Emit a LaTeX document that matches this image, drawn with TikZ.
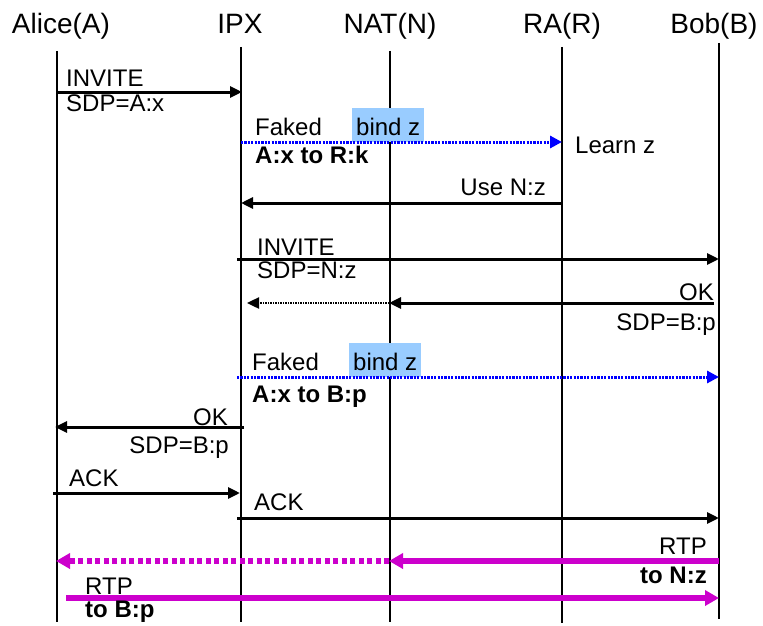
\documentclass[tikz,border=0pt]{standalone}
\usepackage{fontspec}
\setmainfont{Liberation Sans}
\usetikzlibrary{arrows.meta}
\definecolor{hlblue}{RGB}{153,204,255}
\definecolor{rtpmag}{RGB}{204,0,204}
\begin{document}
\begin{tikzpicture}[x=1pt,y=-1pt,
  lifeline/.style={line width=2pt,black},
  msg/.style={line width=3pt,black,-{Triangle[length=12pt,width=11pt]}},
  bluemsg/.style={line width=3pt,blue,dash pattern=on 2.2pt off 1.2pt,-{Triangle[length=12pt,width=12pt]}},
  blackdot/.style={line width=2.4pt,black,dash pattern=on 1.5pt off 1pt,-{Triangle[length=12pt,width=11pt]}},
  rtp/.style={line width=5.5pt,rtpmag,-{Triangle[length=14pt,width=15pt]}},
  rtpdash/.style={line width=5.5pt,rtpmag,dash pattern=on 5pt off 3.5pt,-{Triangle[length=14pt,width=15pt]}},
  lbl/.style={font=\fontsize{24}{27}\selectfont,inner sep=0pt},
  blbl/.style={font=\fontsize{24}{27}\selectfont\bfseries,inner sep=0pt},
  hdr/.style={font=\fontsize{28}{31}\selectfont,inner sep=0pt,anchor=base},
  hlbox/.style={font=\fontsize{24}{27}\selectfont,fill=hlblue,inner xsep=4pt,inner ysep=4pt,text height=23pt,text depth=3pt}
]
\useasboundingbox (0,0) rectangle (763,626);

% headers
\node[hdr] (hA) at (61,34) {Alice(A)};
\node[hdr] (hI) at (240,34) {IPX};
\node[hdr] (hN) at (390,34) {NAT(N)};
\node[hdr] (hR) at (562,34) {RA(R)};
\node[hdr] (hB) at (714,34) {Bob(B)};

% lifelines
\coordinate (At) at (57,51);  \coordinate (Ab) at (57,622);
\coordinate (It) at (241,47); \coordinate (Ib) at (241,622);
\coordinate (Nt) at (390,51); \coordinate (Nb) at (390,622);
\coordinate (Rt) at (562,47); \coordinate (Rb) at (562,623);
\coordinate (Bt) at (719,43); \coordinate (Bb) at (719,619);
\draw[lifeline] (At) -- (Ab);
\draw[lifeline] (It) -- (Ib);
\draw[lifeline] (Nt) -- (Nb);
\draw[lifeline] (Rt) -- (Rb);
\draw[lifeline] (Bt) -- (Bb);

% highlight boxes
\node[hlbox,anchor=base west] (bz1) at (352,135) {bind z};
\node[hlbox,anchor=base west] (bz2) at (349,370) {bind z};

% 1 INVITE A -> IPX
\coordinate (m1a) at (57,92); \coordinate (m1b) at (242,92);
\draw[msg] (m1a) -- (m1b);
\node[lbl,anchor=base west] (t1a) at (66,87) {INVITE};
\node[lbl,anchor=base west] (t1b) at (66,111) {SDP=A:x};

% 2 Faked IPX -> RA
\coordinate (m2a) at (241,142); \coordinate (m2b) at (562,142);
\draw[bluemsg] (m2a) -- (m2b);
\node[lbl,anchor=base west] (t2a) at (255,135) {Faked};
\node[blbl,anchor=base west] (t2b) at (255,163) {A:x to R:k};
\node[lbl,anchor=base west] (t2c) at (575,153) {Learn z};

% 3 Use N:z RA -> IPX
\coordinate (m3a) at (562,203); \coordinate (m3b) at (241,203);
\draw[msg] (m3a) -- (m3b);
\node[lbl,anchor=base east] (t3a) at (546,195) {Use N:z};

% 4 INVITE IPX -> Bob
\coordinate (m4a) at (237,259); \coordinate (m4b) at (719,259);
\draw[msg] (m4a) -- (m4b);
\node[lbl,anchor=base west] (t4a) at (257,255) {INVITE};
\node[lbl,anchor=base west] (t4b) at (257,278) {SDP=N:z};

% 5 OK Bob -> NAT -> IPX
\coordinate (m5a) at (714,303); \coordinate (m5b) at (389,303); \coordinate (m5c) at (247,303);
\draw[msg] (m5a) -- (m5b);
\draw[blackdot] (m5b) -- (m5c);
\node[lbl,anchor=base east] (t5a) at (714,300) {OK};
\node[lbl,anchor=base east] (t5b) at (716,330) {SDP=B:p};

% 6 Faked IPX -> Bob
\coordinate (m6a) at (237,377); \coordinate (m6b) at (719,377);
\draw[bluemsg] (m6a) -- (m6b);
\node[lbl,anchor=base west] (t6a) at (252,370) {Faked};
\node[blbl,anchor=base west] (t6b) at (252,402) {A:x to B:p};

% 7 OK IPX -> Alice
\coordinate (m7a) at (244,427); \coordinate (m7b) at (55,427);
\draw[msg] (m7a) -- (m7b);
\node[lbl,anchor=base east] (t7a) at (228,425) {OK};
\node[lbl,anchor=base east] (t7b) at (229,453) {SDP=B:p};

% 8 ACK A -> IPX
\coordinate (m8a) at (53,493); \coordinate (m8b) at (240,493);
\draw[msg] (m8a) -- (m8b);
\node[lbl,anchor=base west] (t8a) at (69,486) {ACK};

% 9 ACK IPX -> Bob
\coordinate (m9a) at (237,518); \coordinate (m9b) at (719,518);
\draw[msg] (m9a) -- (m9b);
\node[lbl,anchor=base west] (t9a) at (254,510) {ACK};

% 10 RTP Bob -> NAT -> Alice
\coordinate (m10a) at (719,561); \coordinate (m10b) at (389,561); \coordinate (m10c) at (56,561);
\draw[rtp] (m10a) -- (m10b);
\draw[rtpdash] (m10b) -- (m10c);
\node[lbl,anchor=base east] (t10a) at (707,554) {RTP};
\node[blbl,anchor=base east] (t10b) at (707,583) {to N:z};

% 11 RTP Alice -> Bob
\coordinate (m11a) at (66,598); \coordinate (m11b) at (719,598);
\draw[rtp] (m11a) -- (m11b);
\node[lbl,anchor=base west] (t11a) at (85,594) {RTP};
\node[blbl,anchor=base west] (t11b) at (85,617.5) {to B:p};
\end{tikzpicture}
\end{document}
